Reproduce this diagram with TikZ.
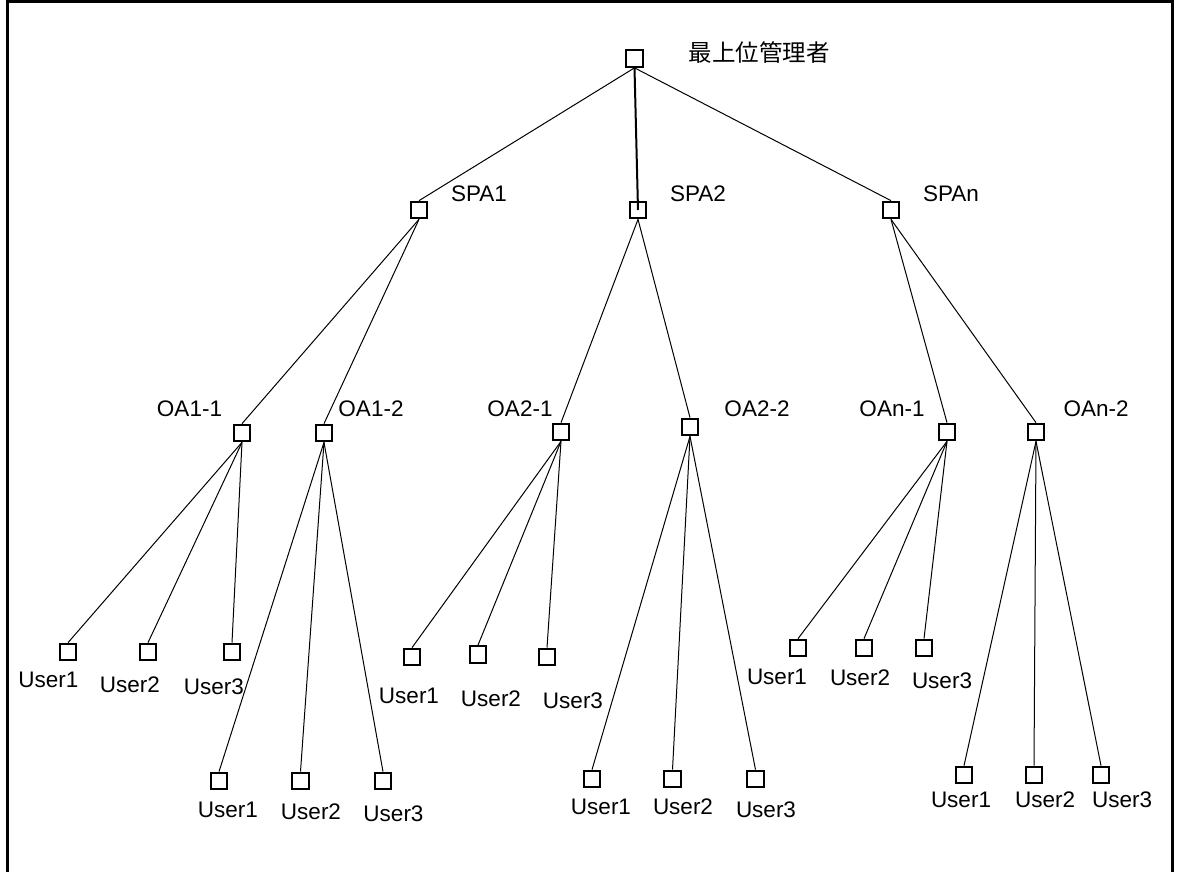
\documentclass[tikz,border=0pt]{standalone}
\usepackage{fontspec}
\setmainfont{Liberation Sans}
\newfontfamily\jpfont{Noto Sans CJK JP}
\begin{document}
\begin{tikzpicture}[x=1pt,y=-1pt,
  box/.style={draw,line width=2.2pt,minimum size=16.5pt,inner sep=0pt},
  lbl/.style={inner sep=0pt,font=\fontsize{22.5}{26}\selectfont},
  link/.style={line width=1pt}]
\useasboundingbox (0,0) rectangle (1180,872);
% open frame (no bottom edge)
\draw[line width=3pt] (7,874) -- (7,1.5) -- (1172,1.5) -- (1172,874);

% root
\node[box] (top) at (634.5,58.5) {};
\node[lbl,font=\jpfont\fontsize{23.5}{27}\selectfont] (topl) at (759,53) {最上位管理者};

% SPA level
\node[box] (spa1) at (419,210) {};
\node[box] (spa2) at (638,210) {};
\node[box] (span) at (891,210) {};
\node[lbl] (spa1l) at (479,194) {SPA1};
\node[lbl] (spa2l) at (698,194) {SPA2};
\node[lbl] (spanl) at (951,194) {SPAn};

% OA level
\node[box] (oa11) at (242,433) {};
\node[box] (oa12) at (324,433) {};
\node[box] (oa21) at (561,432) {};
\node[box] (oa22) at (690,427) {};
\node[box] (oan1) at (947,432) {};
\node[box] (oan2) at (1036,432) {};
\node[lbl] (oa11l) at (189.5,409) {OA1-1};
\node[lbl] (oa12l) at (371,409) {OA1-2};
\node[lbl] (oa21l) at (520,409) {OA2-1};
\node[lbl] (oa22l) at (757,409) {OA2-2};
\node[lbl] (oan1l) at (892,409) {OAn-1};
\node[lbl] (oan2l) at (1096,409) {OAn-2};

% users under OA1-1
\node[box] (u111) at (68,652) {};
\node[box] (u112) at (148,652) {};
\node[box] (u113) at (232,652) {};
\node[lbl] (u111l) at (48.5,680) {User1};
\node[lbl] (u112l) at (130,685) {User2};
\node[lbl] (u113l) at (214,687) {User3};

% users under OA1-2
\node[box] (u121) at (219,781) {};
\node[box] (u122) at (300.5,781) {};
\node[box] (u123) at (383,781) {};
\node[lbl] (u121l) at (228,810) {User1};
\node[lbl] (u122l) at (311,812) {User2};
\node[lbl] (u123l) at (393.5,814) {User3};

% users under OA2-1
\node[box] (u211) at (412,657) {};
\node[box] (u212) at (478,654.5) {};
\node[box] (u213) at (547,657) {};
\node[lbl] (u211l) at (409,696) {User1};
\node[lbl] (u212l) at (491,699) {User2};
\node[lbl] (u213l) at (573,701) {User3};

% users under OA2-2
\node[box] (u221) at (592,779) {};
\node[box] (u222) at (672.5,779) {};
\node[box] (u223) at (755.5,779) {};
\node[lbl] (u221l) at (601,807) {User1};
\node[lbl] (u222l) at (683,807) {User2};
\node[lbl] (u223l) at (766,810) {User3};

% users under OAn-1
\node[box] (un11) at (798,648) {};
\node[box] (un12) at (864,648) {};
\node[box] (un13) at (924,648) {};
\node[lbl] (un11l) at (777,677) {User1};
\node[lbl] (un12l) at (860,678) {User2};
\node[lbl] (un13l) at (942,681) {User3};

% users under OAn-2
\node[box] (un21) at (964,775) {};
\node[box] (un22) at (1034,775) {};
\node[box] (un23) at (1101,775) {};
\node[lbl] (un21l) at (961,800) {User1};
\node[lbl] (un22l) at (1045,800) {User2};
\node[lbl] (un23l) at (1122,800) {User3};

% connectors
\draw[link] (top.south) -- (spa1.north);
\draw[line width=2pt] (top.south) -- (spa2.center);
\draw[link] (top.south) -- (span.north);

\draw[link] (spa1.south) -- (oa11.north);
\draw[link] (spa1.south) -- (oa12.north);
\draw[link] (spa2.south) -- (oa21.north);
\draw[link] (spa2.south) -- (oa22.north);
\draw[link] (span.south) -- (oan1.north);
\draw[link] (span.south) -- (oan2.north);

\foreach \p/\c in {oa11/u111,oa11/u112,oa11/u113,
                   oa12/u121,oa12/u122,oa12/u123,
                   oa21/u211,oa21/u212,oa21/u213,
                   oa22/u221,oa22/u222,oa22/u223,
                   oan1/un11,oan1/un12,oan1/un13,
                   oan2/un21,oan2/un22,oan2/un23}
  \draw[link] (\p.south) -- (\c.north);
\end{tikzpicture}
\end{document}
